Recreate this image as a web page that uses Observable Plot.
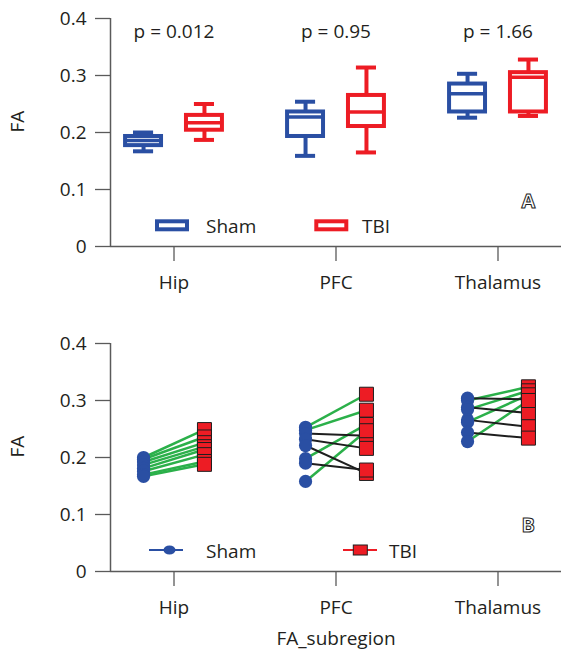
<!DOCTYPE html>
<html><head><meta charset="utf-8">
<script src="https://cdn.jsdelivr.net/npm/d3@7"></script>
<script src="https://cdn.jsdelivr.net/npm/@observablehq/plot@0.6"></script>
<style>
body{margin:0;background:#fff;font-family:"Open Sans",sans-serif;}
#wrap{position:relative;width:567px;height:654px;overflow:hidden;}
#wrap > svg{display:block}
#overlay{position:absolute;left:0;top:0;}
</style></head><body><div id="wrap"></div>
<script>
// ---------- data ----------
const regions = ["Hip", "PFC", "Thalamus"];
const groups = ["Sham", "TBI"];
const pValues = ["p = 0.012", "p = 0.95", "p = 1.66"];
const yTicks = [0, 0.1, 0.2, 0.3, 0.4];
// box stats per region: [min, q1, median, q3, max]
const shamBox = [[0.167, 0.177, 0.186, 0.193, 0.200], [0.159, 0.193, 0.227, 0.236, 0.254], [0.226, 0.236, 0.268, 0.285, 0.303]];
const tbiBox  = [[0.187, 0.204, 0.217, 0.230, 0.250], [0.165, 0.2105, 0.236, 0.265, 0.314], [0.229, 0.236, 0.297, 0.305, 0.328]];
// paired individual values (Sham[i] -> TBI[i])
const hipSham = [0.200, 0.197, 0.192, 0.187, 0.181, 0.176, 0.170, 0.167];
const hipTBI  = [0.249, 0.236, 0.226, 0.219, 0.214, 0.205, 0.193, 0.188];
const pfcSham = [0.253, 0.248, 0.242, 0.232, 0.221, 0.198, 0.190, 0.158];
const pfcTBI  = [0.311, 0.283, 0.238, 0.216, 0.172, 0.258, 0.178, 0.247];
const thalSham = [0.304, 0.300, 0.288, 0.284, 0.266, 0.262, 0.244, 0.228];
const thalTBI  = [0.302, 0.324, 0.278, 0.317, 0.254, 0.310, 0.234, 0.300];

// ---------- styling ----------
const BLUE = "#2a4fa3", RED = "#ed1c24", GREEN = "#2bb04a", DARK = "#1e1e1e";
const AXIS = "#5a5a5a", TEXT = "#231f20";
const FS = 19;
const W = 567;
const xDomain = [-0.392, 2.392];
const off = {Sham: -0.188, TBI: 0.188};
const boxHalf = 0.111, capHalf = 0.062;
const fmt = d => d === 0 ? "0" : d.toFixed(1);

const boxRows = [];
regions.forEach((r, i) => {
  [["Sham", shamBox[i]], ["TBI", tbiBox[i]]].forEach(([g, s]) => {
    boxRows.push({region: r, i, group: g, pos: i + off[g], min: s[0], q1: s[1], med: s[2], q3: s[3], max: s[4]});
  });
});
const tbiSets = [hipTBI, pfcTBI, thalTBI];
const pairs = [hipSham, pfcSham, thalSham].flatMap((sh, i) => sh.map((v, k) => ({i, sham: v, tbi: tbiSets[i][k]})));

function axes() {
  return [
    Plot.axisY({ticks: yTicks, tickFormat: fmt, tickSize: 15, tickPadding: 9, label: null, stroke: AXIS, strokeWidth: 1.3, fill: TEXT, fontSize: FS}),
    Plot.axisX({ticks: [0, 1, 2], tickFormat: i => regions[i], tickSize: 15, tickPadding: 14, label: null, stroke: AXIS, strokeWidth: 1.3, fill: TEXT, fontSize: FS}),
    Plot.ruleY([0], {stroke: AXIS, strokeWidth: 1.5}),
    Plot.ruleX([xDomain[0]], {y1: 0, y2: 0.4, stroke: AXIS, strokeWidth: 1.5}),
    Plot.text(["FA"], {frameAnchor: "left", dx: -93, rotate: -90, fontSize: FS, fill: TEXT})
  ];
}

function boxMarks(g, color) {
  const rows = boxRows.filter(d => d.group === g);
  return [
    Plot.ruleX(rows, {x: "pos", y1: "min", y2: "max", stroke: color, strokeWidth: 4}),
    Plot.rect(rows, {x1: d => d.pos - boxHalf, x2: d => d.pos + boxHalf, y1: "q1", y2: "q3", fill: "white", stroke: color, strokeWidth: 4}),
    Plot.ruleY(rows, {y: "med", x1: d => d.pos - boxHalf, x2: d => d.pos + boxHalf, stroke: color, strokeWidth: 3.5}),
    Plot.ruleY(rows, {y: "min", x1: d => d.pos - capHalf, x2: d => d.pos + capHalf, stroke: color, strokeWidth: 4}),
    Plot.ruleY(rows, {y: "max", x1: d => d.pos - capHalf, x2: d => d.pos + capHalf, stroke: color, strokeWidth: 4})
  ];
}

const common = {
  width: W,
  marginLeft: 110, marginRight: 6,
  x: {domain: xDomain, axis: null},
  y: {domain: [0, 0.4], axis: null},
  style: {fontFamily: "'Open Sans', sans-serif", fontSize: FS + "px", color: TEXT, background: "white", overflow: "visible"}
};

const topPlot = Plot.plot({
  ...common,
  height: 300, marginTop: 18, marginBottom: 54,
  marks: [
    ...axes(),
    ...boxMarks("Sham", BLUE),
    ...boxMarks("TBI", RED),
    Plot.text(pValues, {x: (d, i) => i, frameAnchor: "top", lineAnchor: "middle", dy: 13, fontSize: FS, fill: TEXT})
  ]
});

const shamPts = pairs.map(d => ({pos: d.i + off.Sham, v: d.sham}));
const tbiPts = pairs.map(d => ({pos: d.i + off.TBI, v: d.tbi}));

const bottomPlot = Plot.plot({
  ...common,
  height: 354, marginTop: 43, marginBottom: 83,
  marks: [
    ...axes(),
    Plot.link(pairs.filter(d => d.tbi > d.sham), {x1: d => d.i + off.Sham, x2: d => d.i + off.TBI, y1: "sham", y2: "tbi", stroke: GREEN, strokeWidth: 2.5}),
    Plot.link(pairs.filter(d => d.tbi <= d.sham), {x1: d => d.i + off.Sham, x2: d => d.i + off.TBI, y1: "sham", y2: "tbi", stroke: DARK, strokeWidth: 2}),
    Plot.dot(shamPts, {x: "pos", y: "v", r: 6.6, fill: BLUE}),
    Plot.dot(tbiPts, {x: "pos", y: "v", r: 7.9, symbol: "square", fill: RED, stroke: DARK, strokeWidth: 1}),
    Plot.text(["FA_subregion"], {frameAnchor: "bottom", lineAnchor: "middle", dy: 67, fontSize: FS, fill: TEXT})
  ]
});

const wrap = document.getElementById("wrap");
wrap.appendChild(topPlot);
wrap.appendChild(bottomPlot);

// ---------- legends & panel letters (overlay) ----------
const ov = d3.select(wrap).append("svg").attr("id", "overlay").attr("width", W).attr("height", 654)
  .style("font-family", "'Open Sans', sans-serif");
// top legend
ov.append("rect").attr("x", 157).attr("y", 221.3).attr("width", 30).attr("height", 8).attr("fill", "white").attr("stroke", BLUE).attr("stroke-width", 4);
ov.append("text").attr("x", 206).attr("y", 232.5).attr("font-size", FS).attr("fill", TEXT).text(groups[0]);
ov.append("rect").attr("x", 316.3).attr("y", 221.3).attr("width", 30).attr("height", 8).attr("fill", "white").attr("stroke", RED).attr("stroke-width", 4);
ov.append("text").attr("x", 362).attr("y", 232.5).attr("font-size", FS).attr("fill", TEXT).text(groups[1]);
ov.append("text").attr("x", 521.5).attr("y", 208).attr("font-size", 20).attr("font-weight", "bold").attr("fill", "white").attr("stroke", DARK).attr("stroke-width", 1).text("A");
// bottom legend
ov.append("line").attr("x1", 149).attr("x2", 183).attr("y1", 550).attr("y2", 550).attr("stroke", BLUE).attr("stroke-width", 2);
ov.append("ellipse").attr("cx", 169.5).attr("cy", 550).attr("rx", 6).attr("ry", 4.5).attr("fill", BLUE);
ov.append("text").attr("x", 206).attr("y", 557.5).attr("font-size", FS).attr("fill", TEXT).text(groups[0]);
ov.append("line").attr("x1", 343).attr("x2", 377).attr("y1", 550).attr("y2", 550).attr("stroke", RED).attr("stroke-width", 2);
ov.append("rect").attr("x", 353.3).attr("y", 545).attr("width", 14).attr("height", 10).attr("fill", RED).attr("stroke", DARK).attr("stroke-width", 1);
ov.append("text").attr("x", 389).attr("y", 557.5).attr("font-size", FS).attr("fill", TEXT).text(groups[1]);
ov.append("text").attr("x", 521.5).attr("y", 532).attr("font-size", 20).attr("font-weight", "bold").attr("fill", "white").attr("stroke", DARK).attr("stroke-width", 1).text("B");
</script></body></html>
